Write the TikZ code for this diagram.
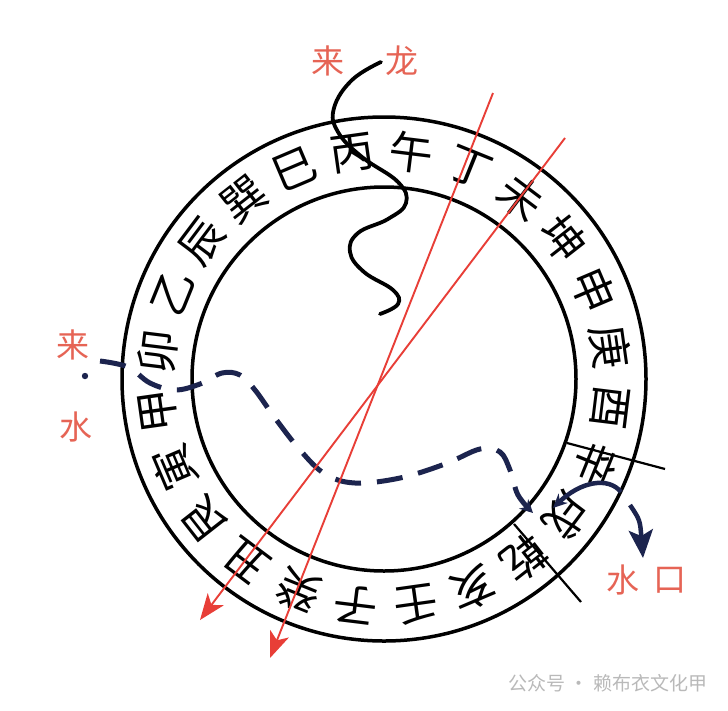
\documentclass[tikz,border=0pt]{standalone}
\usepackage{fontspec}
\newfontfamily\cjk{Noto Sans CJK SC}
\usetikzlibrary{arrows.meta}
\definecolor{navyink}{RGB}{28,36,78}
\definecolor{redline}{RGB}{232,62,55}
\definecolor{labelred}{RGB}{230,100,85}
\begin{document}
\begin{tikzpicture}[x=1pt,y=-1pt,
  ring/.style={font=\cjk\fontsize{44}{44}\selectfont, inner sep=0pt},
  lab/.style={font=\cjk\fontsize{33}{33}\selectfont, text=labelred, inner sep=0pt},
  redarrow/.style={draw=redline, line width=1.9pt, -{Stealth[length=26pt,width=20pt,inset=7pt,fill=redline]}},
  circ/.style={line width=3.5pt},
  divider/.style={line width=2.2pt},
  waterdash/.style={navyink, line width=5pt, dash pattern=on 26pt off 16pt},
  navyarrow/.style={navyink, line width=4.5pt}]
\useasboundingbox (0,0) rectangle (728,710);
\fill[white] (0,0) rectangle (728,710);
\coordinate (C) at (384,379);
\draw[circ] (C) circle[radius=262pt];
\draw[circ] (C) circle[radius=192pt];
\begin{scope}[shift={(384,379)},y=1pt]
\foreach \ch [count=\i from 0] in {午,丁,未,坤,申,庚,酉,辛,戌,乾,亥,壬,子,癸,丑,艮,寅,甲,卯,乙,辰,巽,巳,丙}{
  \pgfmathsetmacro\ang{83-15*\i}
  \node[ring, rotate=\ang-90] (m\i) at (\ang:228) {\ch};
}
\end{scope}
% dividers
\coordinate (d1a) at (567,443); \coordinate (d1b) at (665,469);
\coordinate (d2a) at (514,524); \coordinate (d2b) at (581,602);
\draw[divider] (d1a) -- (d1b);
\draw[divider] (d2a) -- (d2b);
% black dragon line
\draw[line width=3.8pt, line cap=round] plot[smooth, tension=0.7] coordinates {(381,62) (352,80) (334,108) (338,132) (362,157) (398,182) (406,203) (388,219) (358,233) (350,252) (364,272) (393,290) (398,304) (380,314)};
% water dashed line
\draw[waterdash, -{Stealth[length=13pt,width=13pt]}] plot[smooth, tension=0.6] coordinates {(100,361) (128,367) (150,383) (175,390) (200,384) (222,373) (240,375) (255,390) (275,418) (300,450) (325,474) (355,483) (400,478) (445,464) (480,449) (500,452) (510,470) (518,495) (533,513)};
\draw[navyarrow, -{Stealth[length=14pt,width=13pt]}] (621,492) .. controls (608,476) and (580,482) .. (553,508);
\draw[navyarrow, -{Stealth[length=28pt,width=24pt,inset=6pt]}] (630,505) .. controls (640,520) .. (643,558);
% red lines
\coordinate (A1) at (493,93); \coordinate (A2) at (270,658);
\coordinate (B1) at (565,138); \coordinate (B2) at (200,620);
\draw[redarrow] (A1) -- (A2);
\draw[redarrow] (B1) -- (B2);
% labels
\node[lab] (lai1) at (328,61) {来};
\node[lab] (long) at (402,61) {龙};
\node[lab] (lai2) at (73,345) {来};
\fill[navyink] (85,376) circle[radius=3.2pt];
\node[lab] (shui) at (76,427) {水};
\node[lab] (sk1) at (623,580) {水};
\node[lab] (sk2) at (670,580) {口};
\node[font=\cjk\fontsize{19}{19}\selectfont, text=gray!55, anchor=west] (wm) at (505,683) {公众号 · 赖布衣文化甲};
\end{tikzpicture}
\end{document}
